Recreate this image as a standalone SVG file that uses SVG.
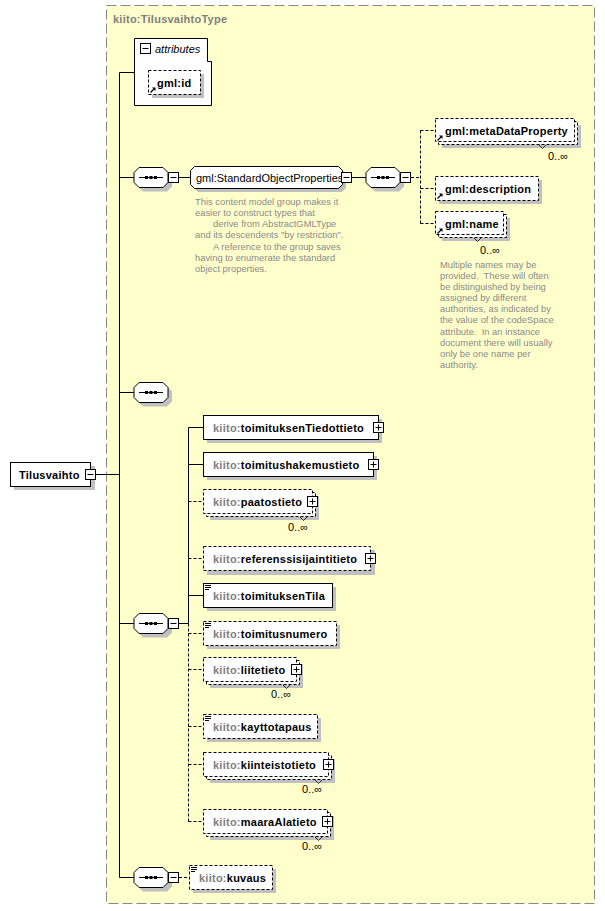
<svg xmlns="http://www.w3.org/2000/svg" xmlns:xlink="http://www.w3.org/1999/xlink" width="605" height="911" viewBox="0 0 605 911">
<style>
text{font-family:"Liberation Sans",Arial,sans-serif;font-size:11px;fill:#000}
.b{font-weight:bold;letter-spacing:0.25px}
.pfx{fill:#808080}
.desc{font-size:9.4px;fill:#8a8a8a;white-space:pre}
.occ{font-size:11px}
.box{fill:#fff;stroke:#000;stroke-width:1}
.dbox{fill:#fff;stroke:#000;stroke-width:1;stroke-dasharray:3,2}
.sh{fill:#c0c0c0;stroke:none}
.ln{stroke:#000;stroke-width:1;fill:none}
.dln{stroke:#000;stroke-width:1;fill:none;stroke-dasharray:3,2}
</style>
<defs>
<g id="seq">
<path class="sh" d="M9,4 H33 L38,9 V19 L33,24 H9 L4,19 V9 Z"/>
<path class="box" d="M5,0 H29 L34,5 V15 L29,20 H5 L0,15 V5 Z"/>
<line class="ln" x1="5" y1="10" x2="29" y2="10"/>
<rect x="11" y="8.5" width="3" height="3" fill="#000"/>
<rect x="15.5" y="8.5" width="3" height="3" fill="#000"/>
<rect x="20" y="8.5" width="3" height="3" fill="#000"/>
</g>
<g id="minus">
<rect x="0.5" y="0.5" width="10" height="10" fill="#fff" stroke="#000"/>
<line x1="2.5" y1="5.5" x2="8.5" y2="5.5" stroke="#000"/>
</g>
<g id="plus">
<rect x="0.5" y="0.5" width="10" height="10" fill="#fff" stroke="#000"/>
<line x1="2.5" y1="5.5" x2="8.5" y2="5.5" stroke="#000"/>
<line x1="5.5" y1="2.5" x2="5.5" y2="8.5" stroke="#000"/>
</g>
<g id="ref">
<path d="M0.5,5.5 L4,2" stroke="#000" stroke-width="1.2" fill="none"/>
<path d="M2,0.5 H5.5 V4 Z" fill="#000"/>
</g>
<g id="simple">
<line x1="0" y1="0.5" x2="6" y2="0.5" stroke="#000"/>
<line x1="0" y1="2.5" x2="6" y2="2.5" stroke="#000"/>
<line x1="0" y1="4.5" x2="4" y2="4.5" stroke="#000"/>
</g>
</defs>

<g id="frame">
<rect x="106.5" y="5.5" width="488" height="898" fill="#ffffcc" stroke="#888" stroke-dasharray="10,4"/>
<text x="113" y="23" class="b pfx">kiito:TilusvaihtoType</text>
</g>

<g id="connectors">
<line class="ln" x1="96" y1="474.5" x2="119.5" y2="474.5"/>
<line class="ln" x1="119.5" y1="72.5" x2="119.5" y2="877.5"/>
<line class="ln" x1="119.5" y1="72.5" x2="134" y2="72.5"/>
<line class="ln" x1="119.5" y1="177.5" x2="134" y2="177.5"/>
<line class="ln" x1="119.5" y1="392.5" x2="134" y2="392.5"/>
<line class="ln" x1="119.5" y1="623.5" x2="134" y2="623.5"/>
<line class="ln" x1="119.5" y1="877.5" x2="134" y2="877.5"/>
<line class="ln" x1="179" y1="177.5" x2="190" y2="177.5"/>
<line class="ln" x1="352" y1="177.5" x2="366" y2="177.5"/>
<line class="dln" x1="411" y1="177.5" x2="420.5" y2="177.5"/>
<line class="dln" x1="420.5" y1="130.5" x2="420.5" y2="223.5"/>
<line class="dln" x1="420.5" y1="130.5" x2="435" y2="130.5"/>
<line class="dln" x1="420.5" y1="188.5" x2="435" y2="188.5"/>
<line class="dln" x1="420.5" y1="223.5" x2="435" y2="223.5"/>
<line class="ln" x1="179" y1="623.5" x2="188.5" y2="623.5"/>
<line class="ln" x1="188.5" y1="427.5" x2="188.5" y2="623.5"/>
<line class="dln" x1="188.5" y1="623.5" x2="188.5" y2="821.5"/>
<line class="ln" x1="188.5" y1="427.5" x2="203" y2="427.5"/>
<line class="ln" x1="188.5" y1="464.5" x2="203" y2="464.5"/>
<line class="dln" x1="188.5" y1="501.5" x2="203" y2="501.5"/>
<line class="dln" x1="188.5" y1="558.5" x2="203" y2="558.5"/>
<line class="ln" x1="188.5" y1="595.5" x2="203" y2="595.5"/>
<line class="dln" x1="188.5" y1="633.5" x2="203" y2="633.5"/>
<line class="dln" x1="188.5" y1="669.5" x2="203" y2="669.5"/>
<line class="dln" x1="188.5" y1="726.5" x2="203" y2="726.5"/>
<line class="dln" x1="188.5" y1="764.5" x2="203" y2="764.5"/>
<line class="dln" x1="188.5" y1="821.5" x2="203" y2="821.5"/>
<line class="dln" x1="179" y1="877.5" x2="189" y2="877.5"/>
</g>

<g id="Tilusvaihto">
<rect class="sh" x="14" y="466" width="81" height="24"/>
<rect class="box" x="10.5" y="462.5" width="80" height="24"/>
<text x="19" y="479" class="b">Tilusvaihto</text>
<use xlink:href="#minus" x="85" y="469"/>
</g>

<g id="attributes">
<path class="box" d="M134.5,38.5 H207.5 V61.5 H211.5 V105.5 H134.5 Z"/>
<use xlink:href="#minus" x="140" y="43"/>
<text x="155" y="53" font-style="italic">attributes</text>
</g>

<g id="gml_id">
<rect class="sh" x="152" y="74" width="52" height="24"/>
<rect class="dbox" x="148.5" y="70.5" width="52" height="24"/>
<text x="157" y="87" class="b">gml:id</text>
<use xlink:href="#ref" x="150" y="87"/>
</g>

<g id="seq1">
<use xlink:href="#seq" x="134" y="167.5"/>
<use xlink:href="#minus" x="168" y="172"/>
</g>

<g id="StandardObjectProperties">
<path class="sh" d="M198,170 H342 L346,174 V188 L342,192 H198 L194,188 V174 Z"/>
<path class="box" d="M194.5,166.5 H338.5 L342.5,170.5 V184.5 L338.5,188.5 H194.5 L190.5,184.5 V170.5 Z"/>
<text x="196" y="182" font-size="10.7">gml:StandardObjectProperties</text>
<use xlink:href="#minus" x="341" y="172"/>
<text class="desc" x="195" y="205">This content model group makes it</text>
<text class="desc" x="195" y="216">easier to construct types that</text>
<text class="desc" x="213" y="227">derive from AbstractGMLType</text>
<text class="desc" x="195" y="238">and its descendents "by restriction".</text>
<text class="desc" x="213" y="250">A reference to the group saves</text>
<text class="desc" x="195" y="261">having to enumerate the standard</text>
<text class="desc" x="195" y="272">object properties.</text>
</g>

<g id="seq_gml">
<use xlink:href="#seq" x="366" y="167.5"/>
<use xlink:href="#minus" x="400" y="172"/>
</g>

<g id="gml_metaDataProperty">
<rect class="sh" x="442" y="125" width="139" height="23"/>
<rect class="dbox" x="438.5" y="121.5" width="139" height="23"/>
<rect class="dbox" x="435.5" y="118.5" width="139" height="23"/>
<text x="445" y="135" class="b">gml:metaDataProperty</text>
<use xlink:href="#ref" x="437" y="135"/>
<path d="M539,145 L542.5,148.5 L546,145" stroke="#000" fill="none" stroke-width="0.8"/>
<text class="occ" x="548" y="160">0..∞</text>
</g>

<g id="gml_description">
<rect class="sh" x="439" y="180" width="103" height="24"/>
<rect class="dbox" x="435.5" y="176.5" width="103" height="24"/>
<text x="445" y="193" class="b">gml:description</text>
<use xlink:href="#ref" x="437" y="193"/>
</g>

<g id="gml_name">
<rect class="sh" x="442" y="218" width="68" height="23"/>
<rect class="dbox" x="438.5" y="214.5" width="68" height="23"/>
<rect class="dbox" x="435.5" y="211.5" width="68" height="23"/>
<text x="445" y="228" class="b">gml:name</text>
<use xlink:href="#ref" x="437" y="228"/>
<path d="M474,238 L477.5,241.5 L481,238" stroke="#000" fill="none" stroke-width="0.8"/>
<text class="occ" x="480" y="254">0..∞</text>
<text class="desc" x="440" y="268">Multiple names may be</text>
<text class="desc" x="440" y="279">provided.  These will often</text>
<text class="desc" x="440" y="290">be distinguished by being</text>
<text class="desc" x="440" y="301">assigned by different</text>
<text class="desc" x="440" y="312">authorities, as indicated by</text>
<text class="desc" x="440" y="323">the value of the codeSpace</text>
<text class="desc" x="440" y="335">attribute.  In an instance</text>
<text class="desc" x="440" y="346">document there will usually</text>
<text class="desc" x="440" y="357">only be one name per</text>
<text class="desc" x="440" y="368">authority.</text>
</g>

<g id="seq2">
<use xlink:href="#seq" x="134" y="382.5"/>
</g>

<g id="seq3">
<use xlink:href="#seq" x="134" y="613.5"/>
<use xlink:href="#minus" x="168" y="618"/>
</g>

<g id="toimituksenTiedottieto">
<rect class="sh" x="207" y="419" width="175" height="24"/>
<rect class="box" x="203.5" y="415.5" width="175" height="24"/>
<text x="213" y="432" class="b"><tspan class="pfx">kiito:</tspan>toimituksenTiedottieto</text>
<use xlink:href="#plus" x="373" y="422"/>
</g>

<g id="toimitushakemustieto">
<rect class="sh" x="207" y="456" width="170" height="24"/>
<rect class="box" x="203.5" y="452.5" width="170" height="24"/>
<text x="213" y="469" class="b"><tspan class="pfx">kiito:</tspan>toimitushakemustieto</text>
<use xlink:href="#plus" x="368" y="459"/>
</g>

<g id="paatostieto">
<rect class="sh" x="210" y="496" width="109" height="24"/>
<rect class="dbox" x="206.5" y="492.5" width="109" height="24"/>
<rect class="dbox" x="203.5" y="489.5" width="109" height="24"/>
<text x="213" y="506" class="b"><tspan class="pfx">kiito:</tspan>paatostieto</text>
<use xlink:href="#plus" x="307" y="496"/>
<path d="M300,517 L303.5,520.5 L307,517" stroke="#000" fill="none" stroke-width="0.8"/>
<text class="occ" x="288" y="531">0..∞</text>
</g>

<g id="referenssisijaintitieto">
<rect class="sh" x="207" y="550" width="168" height="25"/>
<rect class="dbox" x="203.5" y="546.5" width="167" height="24"/>
<text x="213" y="563" class="b"><tspan class="pfx">kiito:</tspan>referenssisijaintitieto</text>
<use xlink:href="#plus" x="365" y="553"/>
</g>

<g id="toimituksenTila">
<rect class="sh" x="207" y="587" width="129" height="24"/>
<rect class="box" x="203.5" y="583.5" width="129" height="24"/>
<use xlink:href="#simple" x="205" y="585"/>
<text x="213" y="600" class="b"><tspan class="pfx">kiito:</tspan>toimituksenTila</text>
</g>

<g id="toimitusnumero">
<rect class="sh" x="207" y="625" width="133" height="24"/>
<rect class="dbox" x="203.5" y="621.5" width="133" height="24"/>
<use xlink:href="#simple" x="205" y="623"/>
<text x="213" y="638" class="b"><tspan class="pfx">kiito:</tspan>toimitusnumero</text>
</g>

<g id="liitetieto">
<rect class="sh" x="210" y="664" width="93" height="24"/>
<rect class="dbox" x="206.5" y="660.5" width="93" height="24"/>
<rect class="dbox" x="203.5" y="657.5" width="93" height="24"/>
<text x="213" y="674" class="b"><tspan class="pfx">kiito:</tspan>liitetieto</text>
<use xlink:href="#plus" x="291" y="664"/>
<path d="M283,685 L286.5,688.5 L290,685" stroke="#000" fill="none" stroke-width="0.8"/>
<text class="occ" x="271" y="698">0..∞</text>
</g>

<g id="kayttotapaus">
<rect class="sh" x="207" y="718" width="114" height="24"/>
<rect class="dbox" x="203.5" y="714.5" width="114" height="24"/>
<use xlink:href="#simple" x="205" y="716"/>
<text x="213" y="731" class="b"><tspan class="pfx">kiito:</tspan>kayttotapaus</text>
</g>

<g id="kiinteistotieto">
<rect class="sh" x="210" y="759" width="125" height="24"/>
<rect class="dbox" x="206.5" y="755.5" width="125" height="24"/>
<rect class="dbox" x="203.5" y="752.5" width="125" height="24"/>
<text x="213" y="769" class="b"><tspan class="pfx">kiito:</tspan>kiinteistotieto</text>
<use xlink:href="#plus" x="323" y="759"/>
<path d="M315,780 L318.5,783.5 L322,780" stroke="#000" fill="none" stroke-width="0.8"/>
<text class="occ" x="302" y="793">0..∞</text>
</g>

<g id="maaraAlatieto">
<rect class="sh" x="210" y="816" width="124" height="24"/>
<rect class="dbox" x="206.5" y="812.5" width="124" height="24"/>
<rect class="dbox" x="203.5" y="809.5" width="124" height="24"/>
<text x="213" y="826" class="b"><tspan class="pfx">kiito:</tspan>maaraAlatieto</text>
<use xlink:href="#plus" x="322" y="816"/>
<path d="M315,837 L318.5,840.5 L322,837" stroke="#000" fill="none" stroke-width="0.8"/>
<text class="occ" x="302" y="850">0..∞</text>
</g>

<g id="seq4">
<use xlink:href="#seq" x="134" y="867.5"/>
<use xlink:href="#minus" x="168" y="872"/>
</g>

<g id="kuvaus">
<rect class="sh" x="193" y="869" width="83" height="24"/>
<rect class="dbox" x="189.5" y="865.5" width="83" height="24"/>
<use xlink:href="#simple" x="191" y="867"/>
<text x="199" y="882" class="b"><tspan class="pfx">kiito:</tspan>kuvaus</text>
</g>
</svg>
